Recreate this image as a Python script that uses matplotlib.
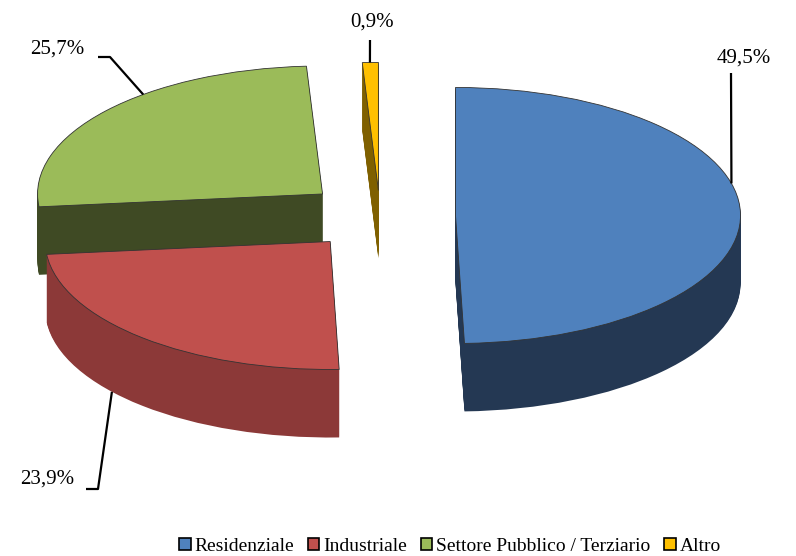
import numpy as np
import matplotlib
matplotlib.use("Agg")
import matplotlib.pyplot as plt
from matplotlib.patches import Patch

plt.rcParams['font.family'] = ['Liberation Serif', 'DejaVu Serif']

categories = ['Residenziale', 'Industriale', 'Settore Pubblico / Terziario', 'Altro']
values = [49.5, 23.9, 25.7, 0.9]
labels = ['49,5%', '23,9%', '25,7%', '0,9%']
explode = [0.265, 0.265, 0.265, 0.2]

top_colors = ['#4F81BD', '#C0504D', '#9BBB59', '#FFC000']
side_colors = ['#243853', '#8C3938', '#3F4A24', '#7F6000']

# pixel frame of the picture -> pie units (ellipse 285 x 128 px)
CX, CY, RX, RY = 380, 216, 285.0, 128.0
DEPTH = 68


def to_data(px, py):
    return (px - CX) / RX, (CY - py) / RY


fig = plt.figure(figsize=(7.96, 5.56), dpi=100)
ax = fig.add_axes([0, 0, 1, 1])

# side of the 3d pie: stacked copies, bottom first
for k in range(DEPTH, 0, -1):
    ax.pie(values, explode=explode, colors=side_colors, startangle=90,
           counterclock=False, center=(0, -k / RY), radius=1,
           wedgeprops=dict(linewidth=0), frame=True)

# top face
wedges, _ = ax.pie(values, explode=explode, colors=top_colors, startangle=90,
                   counterclock=False, center=(0, 0), radius=1,
                   wedgeprops=dict(linewidth=0.6, edgecolor='#333333'), frame=True)

ax.set_aspect('auto')
ax.set_xlim(to_data(0, 0)[0], to_data(796, 0)[0])
ax.set_ylim(to_data(0, 556)[1], to_data(0, 0)[1])
ax.axis('off')

# leader lines anchored on the wedges
cum = np.cumsum([0] + values[:-1])
tot = sum(values)


def wedge_point(i, theta_deg, drop=0.0):
    mid = np.radians((cum[i] + values[i] / 2) / tot * 360)
    tx, ty = explode[i] * np.sin(mid), explode[i] * np.cos(mid)
    th = np.radians(theta_deg)
    return tx + np.sin(th), ty + np.cos(th) - drop


label_pos = [(744, 58), (47, 479), (57, 49), (372, 22)]
anchor_theta = [75.5, 230, 321, 358.3]
anchor_drop = [0, DEPTH / RY, 0, 0]
elbows = [[(731, 73)], [(86, 489), (98, 489)], [(98, 57), (110, 57)], [(370, 40)]]

for i in range(4):
    ax.text(*to_data(*label_pos[i]), labels[i], fontsize=15, ha='center', va='center')
    pts = [to_data(*p) for p in elbows[i]] + [wedge_point(i, anchor_theta[i], anchor_drop[i])]
    xs, ys = zip(*pts)
    ax.plot(xs, ys, color='black', lw=1.6, solid_capstyle='butt')

handles = [Patch(facecolor=c, edgecolor='black', linewidth=1.2) for c in top_colors]
fig.legend(handles, categories, loc='lower center', bbox_to_anchor=(450 / 796, -0.03),
           ncol=4, frameon=False, fontsize=14, handlelength=0.6, handleheight=0.6,
           handletextpad=0.2, columnspacing=0.7)

fig.savefig('out.png', dpi=100)
